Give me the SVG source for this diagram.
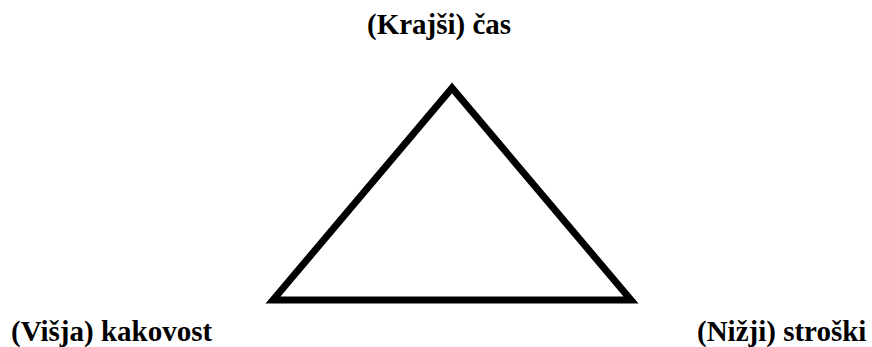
<svg xmlns="http://www.w3.org/2000/svg" width="872" height="347" viewBox="0 0 872 347">
<defs>
<style type="text/css">
text { font-family: 'Times New Roman', 'Liberation Serif', Times, serif; font-weight: 700; font-size: 29px; fill: #000; }
.tri { fill: #fff; stroke: #000; stroke-width: 7; stroke-linejoin: miter; }
</style>
</defs>
<rect width="872" height="347" fill="#fff"/>
<g id="triangle"><polygon class="tri" points="452,88 273,300 631,300"/></g>
<g id="n-cas"><text x="367" y="34">(Krajši) čas</text></g>
<g id="n-kakovost"><text x="11" y="341">(Višja) kakovost</text></g>
<g id="n-stroski"><text x="697" y="341">(Nižji) stroški</text></g>
<g id="connectors"></g>
</svg>
